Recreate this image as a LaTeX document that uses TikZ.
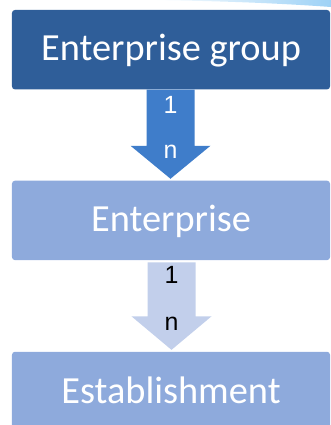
\documentclass[tikz,border=0pt]{standalone}
\usepackage{fontspec}
\setmainfont{Carlito}
\newfontfamily\cardfont{Liberation Sans}
\usetikzlibrary{calc}
\definecolor{dkblue}{HTML}{2F5E99}
\definecolor{midblue}{HTML}{3F7DCA}
\definecolor{ltblue}{HTML}{8EAADC}
\definecolor{paleblue}{HTML}{C2CFEB}
\definecolor{swoosh}{HTML}{9ED2F6}
\tikzset{
  box/.style={rectangle, rounded corners=3bp, minimum width=318bp, minimum height=79.5bp, inner sep=0pt},
  boxtext/.style={anchor=base, text=white, font=\fontsize{38.5}{40}\selectfont, inner sep=0pt},
  cardtext/.style={anchor=base, font=\cardfont\fontsize{25}{28}\selectfont, inner sep=0pt},
}
\begin{document}
\begin{tikzpicture}[x=1bp,y=-1bp]
\useasboundingbox (0,0) rectangle (331,425);
\shade[left color=white, right color=swoosh] (150,0) .. controls (230,1) and (290,4) .. (331,7) -- (331,0) -- cycle;
% boxes
\node[box, fill=dkblue] (eg) at (171,49.7) {};
\node[box, fill=ltblue] (ent) at (171,220.4) {};
\node[box, fill=ltblue] (est) at (171,391.5) {};
\node[boxtext] (egt) at ($(eg.center)+(0,10.5)$) {Enterprise group};
\node[boxtext] (entt) at ($(ent.center)+(0,10.8)$) {Enterprise};
\node[boxtext] (estt) at ($(est.center)+(0,11.8)$) {Establishment};
% arrow 1
\fill[midblue] ($(eg.south)+(-24.5,0)$) -- ($(eg.south)+(23.5,0)$) -- ($(ent.north)+(23.5,-34.7)$) -- ($(ent.north)+(39.5,-34.7)$) -- ($(ent.north)+(-0.5,-1.7)$) -- ($(ent.north)+(-40.5,-34.7)$) -- ($(ent.north)+(-24.5,-34.7)$) -- cycle;
\node[cardtext, text=white] (a1one) at (170.5,113.3) {1};
\node[cardtext, text=white] (a1n) at (170.5,158) {n};
% arrow 2
\fill[paleblue] ($(ent.south)+(-23.5,2)$) -- ($(ent.south)+(24.5,2)$) -- ($(est.north)+(24.5,-35.2)$) -- ($(est.north)+(40.5,-35.2)$) -- ($(est.north)+(0.5,-1.7)$) -- ($(est.north)+(-39.5,-35.2)$) -- ($(est.north)+(-23.5,-35.2)$) -- cycle;
\node[cardtext, text=black] (a2one) at (171.5,283) {1};
\node[cardtext, text=black] (a2n) at (171.5,330) {n};
\end{tikzpicture}
\end{document}
